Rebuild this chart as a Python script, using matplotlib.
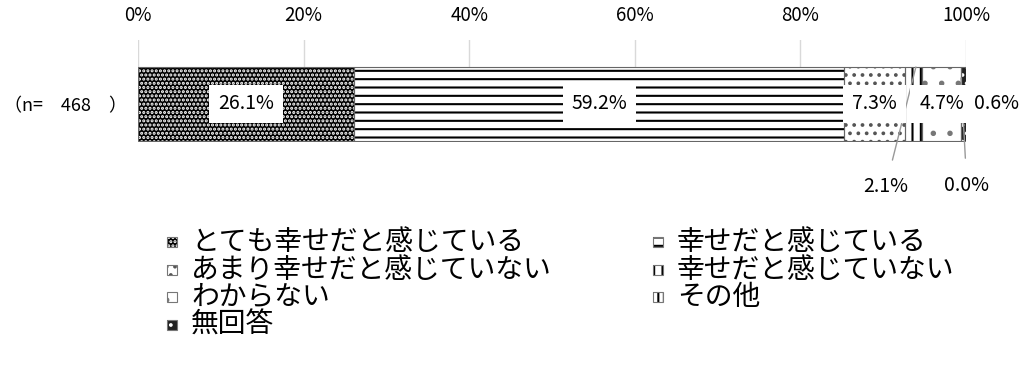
import matplotlib.pyplot as plt
import matplotlib as mpl
import matplotlib.patches as mpatches

plt.rcParams['font.family'] = ['Noto Sans CJK JP', 'DejaVu Sans']
mpl.rcParams['hatch.linewidth'] = 1.5

categories = ["とても幸せだと感じている", "幸せだと感じている", "あまり幸せだと感じていない",
              "幸せだと感じていない", "わからない", "その他", "無回答"]
values = [26.1, 59.2, 7.3, 2.1, 4.7, 0.0, 0.6]
row_label = "（n=　468　）"
xticks = [0, 20, 40, 60, 80, 100]

# style per segment: face, hatch colour, hatch
styles = [("black", "white", "...."),
          ("white", "black", "--"),
          ("white", "#555555", ".."),
          ("white", "black", "||"),
          ("white", "#777777", "."),
          ("white", "black", "|||"),
          ("#222222", "white", "..")]

W, H = 1031, 369
fig = plt.figure(figsize=(W / 100, H / 100), dpi=100)
ax = fig.add_axes([138 / W, 1 - 142 / H, 828 / W, 102 / H])

left = 0
centers = []
for cat, v, (fc, hc, h) in zip(categories, values, styles):
    ax.barh(0.5, v, left=left, height=1, color=fc, edgecolor=hc,
            hatch=h, linewidth=0, zorder=2)
    ax.barh(0.5, v, left=left, height=1, fill=False, edgecolor="#666666",
            linewidth=0.8, zorder=3)
    centers.append(left + v / 2)
    left += v

# inside labels
for i in [0, 1, 2, 4]:
    ax.text(centers[i], 0.5, f"{values[i]:.1f}%", ha="center", va="center",
            fontsize=14, zorder=5,
            bbox=dict(boxstyle="square,pad=0.45", fc="white", ec="none"))

# outside labels
ax.text(103.7, 0.5, f"{values[6]:.1f}%", ha="center", va="center", fontsize=14)
ax.annotate(f"{values[3]:.1f}%", xy=(centers[3] + 0.3, 1.0), xytext=(90.3, -0.62),
            ha="center", va="center", fontsize=14, annotation_clip=False,
            arrowprops=dict(arrowstyle="-", color="#999999", lw=1,
                            shrinkA=10, shrinkB=0))
ax.annotate(f"{values[5]:.1f}%", xy=(99.4, 0.85), xytext=(100.1, -0.6),
            ha="center", va="center", fontsize=14, annotation_clip=False,
            arrowprops=dict(arrowstyle="-", color="#999999", lw=1,
                            shrinkA=10, shrinkB=0))

ax.set_xlim(0, 100)
ax.set_ylim(-0.014, 1.365)
ax.set_xticks(xticks)
ax.set_xticklabels([f"{t}%" for t in xticks], fontsize=13.5)
ax.xaxis.tick_top()
ax.tick_params(axis="x", length=0, pad=10)
ax.set_yticks([0.5])
ax.set_yticklabels([row_label], fontsize=13)
ax.tick_params(axis="y", length=0, pad=8)
ax.grid(axis="x", color="#d9d9d9", lw=1, zorder=0)
ax.set_axisbelow(True)
for s in ax.spines.values():
    s.set_visible(False)

# legend, two columns laid out as in the original
col_x = [167, 653]
row_y = [242, 270, 297, 325]
slots = [(0, 0), (1, 0), (0, 1), (1, 1), (0, 2), (1, 2), (0, 3)]
for (c, r), cat, (fc, hc, h) in zip(slots, categories, styles):
    x0, y0 = col_x[c], row_y[r]
    fig.add_artist(mpatches.Rectangle((x0 / W, 1 - (y0 + 5) / H), 10 / W, 10 / H,
                                      transform=fig.transFigure, facecolor=fc,
                                      edgecolor=hc, hatch=h, linewidth=0))
    fig.add_artist(mpatches.Rectangle((x0 / W, 1 - (y0 + 5) / H), 10 / W, 10 / H,
                                      transform=fig.transFigure, fill=False,
                                      edgecolor="#777777", linewidth=0.8))
    fig.text((x0 + 24) / W, 1 - y0 / H, cat, fontsize=20, ha="left", va="center")

fig.savefig("out.png", dpi=100)
